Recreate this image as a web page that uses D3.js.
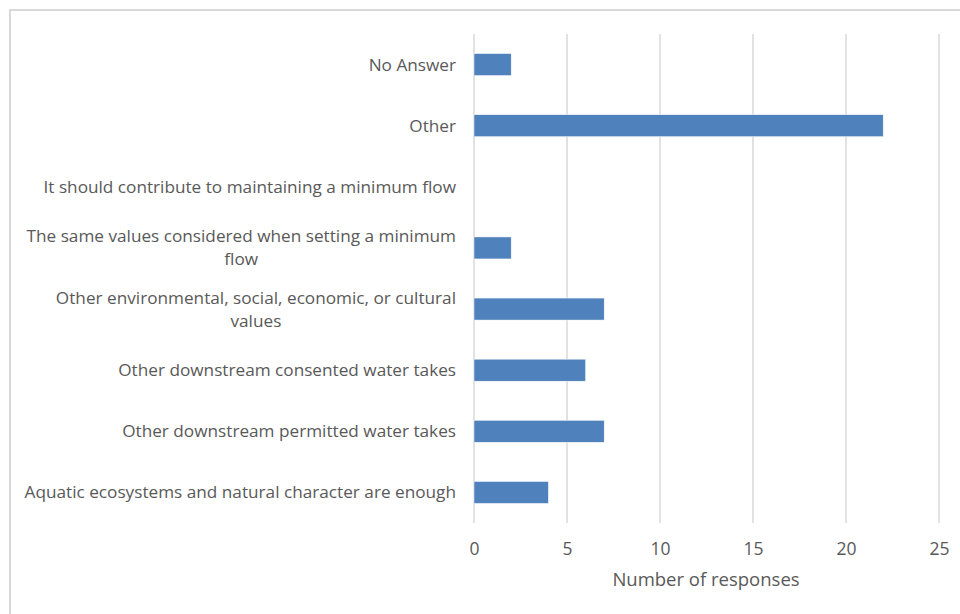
<!DOCTYPE html>
<html><head><meta charset="utf-8">
<script src="https://cdn.jsdelivr.net/npm/d3@7"></script>
<style>body{margin:0;background:#fff}svg{display:block}</style>
</head><body>
<script>
const categories = [
  ["No Answer"],
  ["Other"],
  ["It should contribute to maintaining a minimum flow"],
  ["The same values considered when setting a minimum", "flow"],
  ["Other environmental, social, economic, or cultural", "values"],
  ["Other downstream consented water takes"],
  ["Other downstream permitted water takes"],
  ["Aquatic ecosystems and natural character are enough"]
];
const values = [2, 22, 0, 2, 7, 6, 7, 4];
const xTicks = [0, 5, 10, 15, 20, 25];
const xTitle = "Number of responses";

const W = 960, H = 614;
const svg = d3.select("body").append("svg").attr("width", W).attr("height", H);
svg.append("rect").attr("x", 10).attr("y", 10).attr("width", W).attr("height", H)
  .attr("fill", "#fff").attr("stroke", "#d9d9d9").attr("stroke-width", 2);

const font = "'Open Sans', sans-serif";
const x = d3.scaleLinear().domain([0, 25]).range([474, 939]);
const y = d3.scaleBand().domain(d3.range(categories.length)).range([34, 523]).paddingInner(0.64).paddingOuter(0.32);

svg.append("g").selectAll("line").data(xTicks).join("line")
  .attr("x1", d => x(d)).attr("x2", d => x(d)).attr("y1", 34).attr("y2", 523)
  .attr("stroke", "#d9d9d9").attr("stroke-width", 1.5);

svg.append("g").selectAll("rect").data(values).join("rect")
  .attr("x", x(0)).attr("y", (d, i) => y(i))
  .attr("width", d => x(d) - x(0)).attr("height", y.bandwidth())
  .attr("fill", "#4f81bd").attr("stroke", d => d > 0 ? "#fff" : "none").attr("stroke-width", 0.5);

const xAxis = d3.axisBottom(x).tickValues(xTicks).tickSize(0).tickPadding(0);
const gx = svg.append("g").attr("transform", "translate(0,549)").call(xAxis);
gx.select(".domain").remove();
gx.selectAll("text").attr("font-family", font).attr("font-size", 17.5).attr("fill", "#595959").attr("dy", "0.35em");

svg.append("text").attr("x", 706).attr("y", 580).attr("dy", "0.35em").attr("text-anchor", "middle")
  .attr("font-family", font).attr("font-size", 18.5).attr("fill", "#595959").text(xTitle);

const lh = 23, right = 456;
categories.forEach((lines, i) => {
  const cy = y(i) + y.bandwidth() / 2;
  const g = svg.append("g");
  const ts = lines.map((l, k) => g.append("text")
    .attr("y", cy + (k - (lines.length - 1) / 2) * lh).attr("dy", "0.35em")
    .attr("font-family", font).attr("font-size", 17.2).attr("fill", "#595959").attr("text-anchor", "middle").text(l));
  const mw = d3.max(ts, t => t.node().getComputedTextLength());
  ts.forEach(t => t.attr("x", right - mw / 2));
});
</script>
</body></html>
